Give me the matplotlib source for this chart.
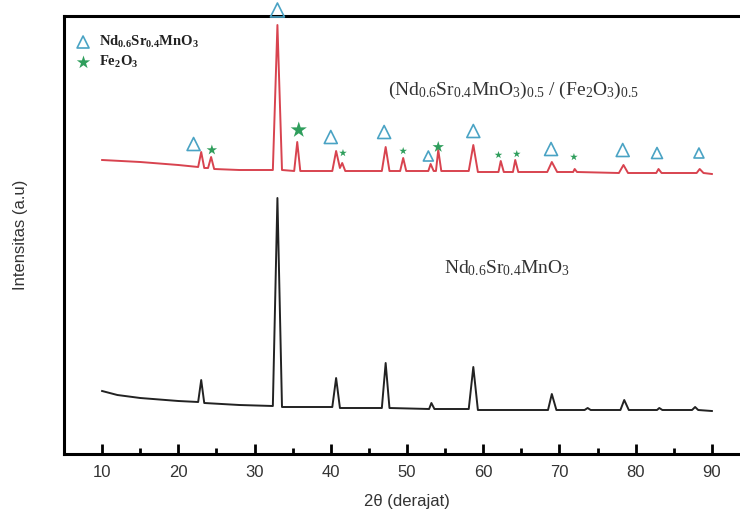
import numpy as np
import matplotlib
matplotlib.use("Agg")
import matplotlib.pyplot as plt

plt.rcParams['mathtext.default'] = 'regular'

# 2theta / intensity for Nd0.6Sr0.4MnO3 + Fe2O3 composite (red)
x_comp = [10, 15, 20, 22.6, 23.0, 23.4, 23.9, 24.3, 24.7, 28, 32.4, 33.0, 33.6,
          35.2, 35.6, 36.0, 40.2, 40.7, 41.2, 41.5, 41.9, 46.7, 47.2, 47.7,
          49.1, 49.5, 49.9, 52.8, 53.1, 53.5, 53.8, 54.1, 54.5, 58.1, 58.7, 59.3,
          62.0, 62.3, 62.7, 63.9, 64.2, 64.6, 68.4, 69.0, 69.7, 71.8, 72.0, 72.3,
          77.8, 78.4, 79.0, 82.7, 83.0, 83.4, 88.0, 88.4, 88.9, 90]
y_comp = [294, 292, 289, 287, 302, 286, 286, 297, 285, 284, 284, 429, 284,
          283, 312, 283, 283, 303, 286, 291, 283, 283, 307, 283,
          283, 296, 283, 283, 290, 283, 283, 304, 283, 283, 309, 282,
          282, 293, 282, 282, 294, 282, 282, 292, 282, 282, 285, 282,
          281, 289, 281, 281, 285, 281, 281, 285, 281, 280]

# 2theta / intensity for pure Nd0.6Sr0.4MnO3 (black)
x_nsmo = [10, 12, 15, 20, 22.6, 23.0, 23.4, 28, 32.4, 33.0, 33.6, 40.2, 40.7, 41.2,
          46.7, 47.2, 47.7, 52.9, 53.2, 53.6, 58.1, 58.7, 59.3, 68.5, 69.0, 69.6,
          73.3, 73.7, 74.1, 78.0, 78.5, 79.1, 82.8, 83.1, 83.5, 87.4, 87.8, 88.2, 90]
y_nsmo = [63, 59, 56, 53, 52, 74, 51, 49, 48, 256, 47, 47, 76, 46,
          46, 91, 46, 45, 51, 45, 45, 87, 44, 44, 60, 44,
          44, 46, 44, 44, 54, 44, 44, 46, 44, 44, 47, 44, 43]

# peak markers: perovskite (triangles) and Fe2O3 (stars)
tri_x = [22.0, 33.0, 40.0, 47.0, 52.8, 58.7, 68.9, 78.3, 82.8, 88.3]
tri_y = [310, 444, 317, 322, 298, 323, 305, 304, 301, 301]
tri_px = [13, 14, 13, 13, 10, 13, 13, 13, 11, 10]
star_x = [24.4, 35.8, 41.6, 49.5, 54.1, 62.0, 64.4, 71.9]
star_y = [304, 324, 301, 303, 307, 299, 300, 297]
star_px = [11, 17, 8, 8, 12, 8, 8, 8]

tri_color = '#4aa3c4'
star_color = '#2f9e5c'

fig = plt.figure(figsize=(7.4, 5.22), dpi=100)
ax = fig.add_axes([64/740, 68/522, 686/740, 438/522])

ax.plot(x_comp, y_comp, color='#d8434f', lw=1.4)
ax.plot(x_nsmo, y_nsmo, color='#222222', lw=1.4)

ax.scatter(tri_x, tri_y, s=[(p*0.72)**2 for p in tri_px], marker='^',
           facecolors='none', edgecolors=tri_color, linewidths=1.2, clip_on=False, zorder=3)
ax.scatter(star_x, star_y, s=[(p*0.72)**2 for p in star_px], marker='*',
           color=star_color, linewidths=0, zorder=3)

# legend drawn by hand
ax.scatter([7.5], [412], s=(12*0.72)**2, marker='^', facecolors='none',
           edgecolors=tri_color, linewidths=1.2)
ax.scatter([7.5], [392], s=(14*0.72)**2, marker='*', color=star_color, linewidths=0)
ax.text(9.6, 412, r'Nd$_{0.6}$Sr$_{0.4}$MnO$_3$', family='Liberation Serif',
        fontweight='bold', fontsize=10.5, va='center', color='#222222')
ax.text(9.6, 392, r'Fe$_2$O$_3$', family='Liberation Serif',
        fontweight='bold', fontsize=10.5, va='center', color='#222222')

ax.text(47.5, 364, r'(Nd$_{0.6}$Sr$_{0.4}$MnO$_3$)$_{0.5}$ / (Fe$_2$O$_3$)$_{0.5}$',
        family='Liberation Serif', fontsize=14, color='#333333', va='center')
ax.text(54.9, 186, r'Nd$_{0.6}$Sr$_{0.4}$MnO$_3$',
        family='Liberation Serif', fontsize=14, color='#333333', va='center')

ax.set_xlim(5, 95)
ax.set_ylim(0, 438)
ax.set_xticks(np.arange(10, 91, 10))
ax.set_xticks(np.arange(15, 90, 10), minor=True)
ax.set_yticks([])
ax.tick_params(axis='x', which='major', direction='in', length=7, width=2,
               labelsize=12, labelcolor='#333333', pad=8)
ax.tick_params(axis='x', which='minor', direction='in', length=4, width=2)
for sp in ax.spines.values():
    sp.set_linewidth(2.2)

ax.set_xlabel('2θ (derajat)', family='Liberation Sans', fontsize=12,
              color='#333333', labelpad=10)
ax.set_ylabel('Intensitas (a.u)', family='Liberation Sans', fontsize=12,
              color='#333333', labelpad=26)
for lab in ax.get_xticklabels():
    lab.set_family('Liberation Sans')

fig.savefig('out.png', dpi=100)
